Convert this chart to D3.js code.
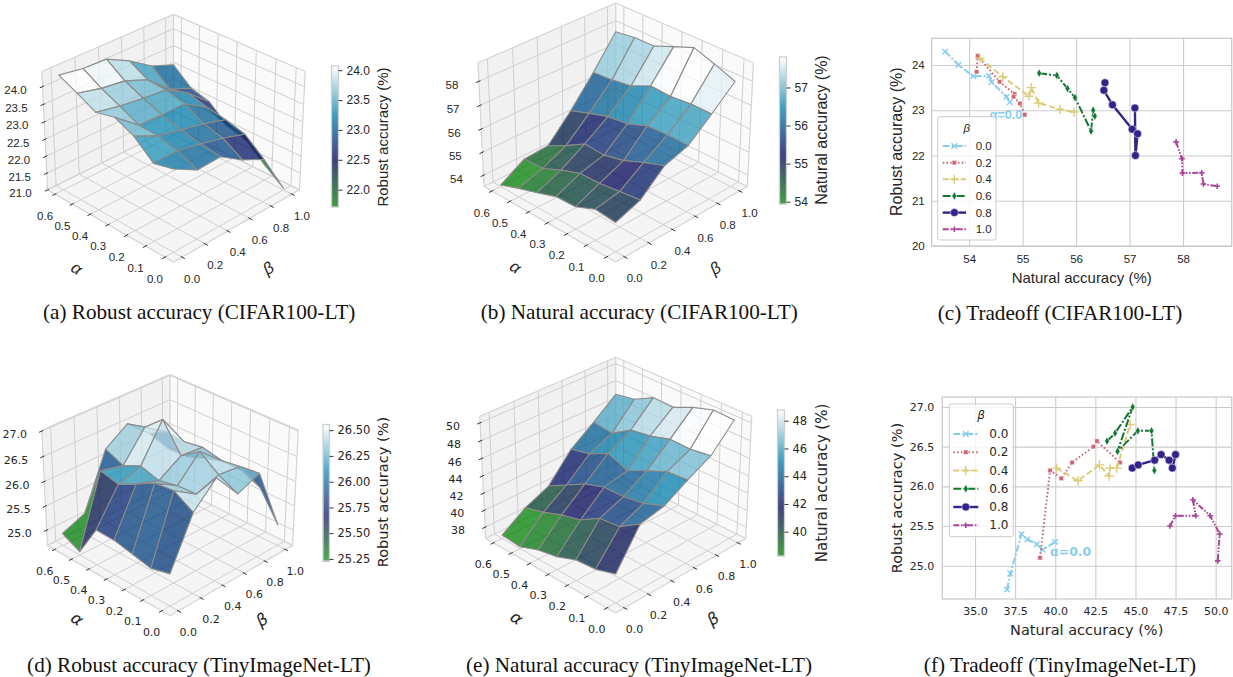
<!DOCTYPE html>
<html>
<head>
<meta charset="utf-8">
<script src="https://cdn.jsdelivr.net/npm/d3@7"></script>
<style>
body { margin: 0; background: #fff; }
</style>
</head>
<body>
<svg id="fig" width="1233" height="677"></svg>
<script>
const alphas = [0, 0.1, 0.2, 0.3, 0.4, 0.5, 0.6];
const betas = [0, 0.2, 0.4, 0.6, 0.8, 1.0];
const betaNames = ["0.0", "0.2", "0.4", "0.6", "0.8", "1.0"];

// surfaces, rows are alpha, columns are beta
const robustCifar = [
  [23.34, 22.97, 23.00, 22.57, 22.25, 21.05],
  [23.21, 23.22, 23.08, 22.91, 22.70, 21.46],
  [23.68, 23.36, 23.20, 23.05, 22.85, 21.93],
  [23.93, 23.39, 23.36, 23.36, 22.95, 22.08],
  [23.80, 23.66, 23.57, 23.50, 23.10, 22.54],
  [24.07, 23.90, 23.81, 23.54, 22.96, 22.69],
  [24.32, 24.21, 24.18, 23.84, 23.40, 23.14]
];
const naturalCifar = [
  [54.74, 55.11, 56.00, 56.32, 57.13, 57.99],
  [54.82, 55.01, 55.70, 56.34, 57.14, 58.33],
  [54.46, 54.90, 55.34, 56.30, 57.05, 58.63],
  [54.43, 54.88, 55.14, 55.97, 57.10, 58.30],
  [54.14, 54.58, 55.19, 55.87, 56.71, 57.96],
  [53.87, 54.21, 54.69, 55.60, 56.58, 57.95],
  [53.57, 54.19, 54.26, 55.31, 56.51, 57.84]
];
const robustTiny = [
  [25.33, 26.29, 26.73, 26.20, 26.38, 25.11],
  [25.23, 26.52, 26.23, 26.39, 26.34, 25.70],
  [25.31, 26.48, 26.21, 26.67, 26.28, 25.87],
  [25.39, 26.28, 26.13, 26.41, 26.37, 25.87],
  [25.40, 26.09, 26.24, 26.96, 26.31, 25.76],
  [24.75, 26.18, 26.07, 26.64, 26.35, 25.62],
  [24.93, 25.12, 26.23, 26.54, 26.14, 25.59]
];
const naturalTiny = [
  [39.96, 44.09, 44.68, 46.22, 47.61, 50.31],
  [39.22, 42.60, 43.82, 46.04, 47.25, 50.41],
  [39.03, 42.35, 43.43, 45.05, 47.32, 49.70],
  [38.17, 40.98, 43.37, 43.95, 46.65, 48.70],
  [37.72, 40.39, 42.63, 44.87, 46.30, 48.82],
  [36.88, 39.53, 41.39, 43.72, 44.87, 47.64],
  [37.06, 38.92, 40.14, 43.20, 45.14, 47.24]
];

// tradeoff lines, one row per beta
const tradeCifarX = [
  [53.55, 53.8, 54.08, 54.37, 54.42, 54.7, 54.76],
  [54.14, 54.16, 54.57, 54.85, 54.83, 54.95, 55.04],
  [54.2, 54.63, 55.12, 55.16, 55.3, 55.7, 55.96],
  [55.31, 55.64, 55.84, 55.98, 56.28, 56.32, 56.35],
  [56.54, 56.52, 56.68, 57.05, 57.15, 57.11, 57.1],
  [57.87, 57.98, 57.99, 58.35, 58.38, 58.64]
];
const tradeCifarY = [
  [24.3, 24.0, 23.75, 23.76, 23.62, 23.3, 23.18],
  [23.85, 24.2, 23.63, 23.36, 23.3, 23.15, 22.9],
  [24.15, 23.74, 23.31, 23.5, 23.16, 23.02, 22.96],
  [23.82, 23.77, 23.48, 23.28, 22.54, 23.0, 22.87],
  [23.61, 23.44, 23.12, 22.58, 22.48, 22.0, 23.05],
  [22.3, 21.93, 21.61, 21.62, 21.37, 21.32]
];
const tradeTinyX = [
  [37.0, 37.2, 37.9, 38.26, 38.85, 39.22, 40.0],
  [39.05, 39.68, 40.38, 41.05, 42.38, 42.6, 44.04],
  [40.08, 41.42, 42.75, 43.36, 43.42, 43.84, 44.67],
  [43.23, 43.73, 44.83, 43.88, 45.15, 46.0, 46.18],
  [44.8, 45.17, 46.2, 46.6, 47.1, 47.3, 47.5],
  [47.15, 47.5, 48.76, 48.58, 49.66, 50.25, 50.13]
];
const tradeTinyY = [
  [24.7, 24.9, 25.4, 25.33, 25.27, 25.2, 25.3],
  [25.1, 26.2, 26.1, 26.3, 26.5, 26.57, 26.3],
  [26.23, 26.07, 26.27, 26.13, 26.23, 26.23, 26.78],
  [26.57, 26.67, 27.0, 26.44, 26.7, 26.7, 26.2],
  [26.23, 26.27, 26.33, 26.4, 26.33, 26.23, 26.4],
  [25.5, 25.63, 25.63, 25.83, 25.63, 25.4, 25.06]
];

const lineColors = ["#88CCEE", "#CC6677", "#DDCC77", "#117733", "#332288", "#AA4499"];
const lineDashes = ["7,2,2,2", "1.6,2.2", "6,3", "8,2,2,2", null, "6,1.6,1.6,1.6,1.6,1.6"];

const svg = d3.select("#fig");
const SANS = "'Liberation Sans'";
const DEJA = "'DejaVu Sans'";
const TEXT = "#262626";

// same colours as matplotlib's ocean map
const ocean = d3.scaleLinear()
  .domain([0, 1 / 3, 2 / 3, 1])
  .range(["rgb(0,128,0)", "rgb(0,0,85)", "rgb(0,128,170)", "rgb(255,255,255)"]);

// box sides in view units (aspect 4:4:3), camera at distance 10
const SIDE = 1.19, TALL = 0.893, DIST = 10;
const COS = Math.cos(Math.PI / 6), SIN = 0.5, R2 = Math.SQRT1_2;

function surfacePanel(o) {
  const g = svg.append("g");
  const aS = d3.scaleLinear().domain([0, 0.6]).range([-0.4363, 0.4363]);
  const bS = d3.scaleLinear().domain([0, 1]).range([-0.4363, 0.4363]);
  const zS = d3.scaleLinear().domain(o.zLim).range([-0.5, 0.5]);

  // box coordinates (-.5...5) to pixels
  function proj(a, b, c) {
    const xv = (b - a) * SIDE * R2;
    const gy = (a + b) * SIDE * R2;
    const yv = gy * SIN + c * TALL * COS;
    const d = gy * COS - c * TALL * SIN;
    const f = DIST / (DIST + d);
    return [o.cx + o.S * f * xv, o.cy - o.S * f * yv, d];
  }
  const poly = pts => pts.map(p => proj(...p).slice(0, 2).join(",")).join(" ");
  const seg = (p, q, stroke, w) => {
    const P = proj(...p), Q = proj(...q);
    g.append("line").attr("x1", P[0]).attr("y1", P[1]).attr("x2", Q[0]).attr("y2", Q[1])
      .attr("stroke", stroke).attr("stroke-width", w);
  };

  // panes
  g.append("polygon").attr("points", poly([[-.5, -.5, -.5], [.5, -.5, -.5], [.5, .5, -.5], [-.5, .5, -.5]])).attr("fill", "#f5f5f5");
  g.append("polygon").attr("points", poly([[.5, -.5, -.5], [.5, .5, -.5], [.5, .5, .5], [.5, -.5, .5]])).attr("fill", "#f1f1f1");
  g.append("polygon").attr("points", poly([[-.5, .5, -.5], [.5, .5, -.5], [.5, .5, .5], [-.5, .5, .5]])).attr("fill", "#fafafa");

  const GRID = "#d0d0d0", EDGE = "#d4d4d4";
  alphas.forEach(t => {
    seg([aS(t), -.5, -.5], [aS(t), .5, -.5], GRID, 1);
    seg([aS(t), .5, -.5], [aS(t), .5, .5], GRID, 1);
  });
  betas.forEach(t => {
    seg([-.5, bS(t), -.5], [.5, bS(t), -.5], GRID, 1);
    seg([.5, bS(t), -.5], [.5, bS(t), .5], GRID, 1);
  });
  o.zTicks.forEach(t => {
    seg([.5, -.5, zS(t)], [.5, .5, zS(t)], GRID, 1);
    seg([-.5, .5, zS(t)], [.5, .5, zS(t)], GRID, 1);
  });
  [[[-.5, -.5, -.5], [.5, -.5, -.5]], [[-.5, -.5, -.5], [-.5, .5, -.5]], [[.5, -.5, -.5], [.5, -.5, .5]], [[-.5, .5, -.5], [-.5, .5, .5]],
   [[.5, -.5, .5], [.5, .5, .5]], [[-.5, .5, .5], [.5, .5, .5]], [[.5, .5, -.5], [.5, .5, .5]], [[.5, -.5, -.5], [.5, .5, -.5]], [[-.5, .5, -.5], [.5, .5, -.5]]]
    .forEach(e => seg(e[0], e[1], EDGE, 1.2));

  // ticks and their labels
  const label = (x, y, s) => g.append("text").attr("x", x).attr("y", y).attr("text-anchor", "middle")
    .attr("dominant-baseline", "central").attr("font-family", o.font).attr("font-size", o.tickSize)
    .attr("fill", TEXT).text(s);
  alphas.forEach(t => {
    seg([aS(t), -.52, -.5], [aS(t), -.49, -.5], "#333", 1);
    const p = proj(aS(t), -.5, -.5);
    label(p[0] - 10, p[1] + 21.5, d3.format(".1f")(t));
  });
  betas.forEach(t => {
    seg([-.52, bS(t), -.5], [-.49, bS(t), -.5], "#333", 1);
    const p = proj(-.5, bS(t), -.5);
    label(p[0] + 10, p[1] + 21.5, d3.format(".1f")(t));
  });
  o.zTicks.forEach(t => {
    seg([.5, -.52, zS(t)], [.5, -.49, zS(t)], "#333", 1);
    const p = proj(.5, -.5, zS(t));
    label(p[0] - 27, p[1] + 3.5, d3.format(o.zFormat)(t));
  });
  g.append("text").attr("transform", `translate(${o.aLab[0]},${o.aLab[1]}) rotate(34)`)
    .attr("text-anchor", "middle").attr("dominant-baseline", "central")
    .attr("font-family", o.font).attr("font-style", "italic").attr("font-size", 16.5).attr("fill", TEXT).text("α");
  g.append("text").attr("transform", `translate(${o.bLab[0]},${o.bLab[1]}) rotate(-34)`)
    .attr("text-anchor", "middle").attr("dominant-baseline", "central")
    .attr("font-family", o.font).attr("font-style", "italic").attr("font-size", 16.5).attr("fill", TEXT).text("β");

  // surface faces, far ones first
  const colorOf = d3.scaleLinear().domain(o.cbar).range([0, 1]).clamp(true);
  const faces = [];
  for (let i = 0; i < alphas.length - 1; i++) {
    for (let j = 0; j < betas.length - 1; j++) {
      const corners = [[i, j], [i + 1, j], [i + 1, j + 1], [i, j + 1]];
      const pts = corners.map(([r, s]) => [aS(alphas[r]), bS(betas[s]), zS(o.values[r][s])]);
      faces.push({
        pts,
        depth: d3.mean(pts, p => proj(...p)[2]),
        value: d3.mean(corners, ([r, s]) => o.values[r][s])
      });
    }
  }
  faces.sort((p, q) => q.depth - p.depth);
  g.selectAll(".face").data(faces).enter().append("polygon")
    .attr("class", "face")
    .attr("points", d => poly(d.pts))
    .attr("fill", d => ocean(colorOf(d.value)))
    .attr("fill-opacity", 0.74)
    .attr("stroke", "#8c8c8c")
    .attr("stroke-width", 1.1)
    .attr("stroke-linejoin", "round");

  // colorbar
  const [x0, y0, w, h] = o.cbBox;
  const cb = svg.append("g").attr("transform", `translate(${x0},${y0})`);
  const cY = d3.scaleLinear().domain(o.cbar).range([h, 0]);
  d3.range(0, h, 1).forEach(py => {
    cb.append("rect").attr("x", 0).attr("y", py).attr("width", w).attr("height", 1.2)
      .attr("fill", ocean(1 - py / h)).attr("fill-opacity", 0.7);
  });
  cb.append("rect").attr("width", w).attr("height", h).attr("fill", "none").attr("stroke", "#cfcfcf").attr("stroke-width", 1.3);
  const cbAxis = cb.append("g").attr("transform", `translate(${w},0)`)
    .call(d3.axisRight(cY).tickValues(o.cbTicks).tickFormat(d3.format(o.cbFormat)).tickSize(4).tickPadding(4));
  cbAxis.select(".domain").remove();
  cbAxis.selectAll("line").attr("stroke", "#333");
  cbAxis.selectAll("text").attr("font-family", o.font).attr("font-size", o.cbSize).attr("fill", TEXT);
  svg.append("text").attr("transform", `translate(${o.cbLab[0]},${o.cbLab[1]}) rotate(-90)`)
    .attr("text-anchor", "middle").attr("dominant-baseline", "central")
    .attr("font-family", o.font).attr("font-size", o.labSize).attr("fill", TEXT).text(o.title);
}

function tradeoffPanel(o) {
  const [left, top, right, bottom] = o.box;
  const x = d3.scaleLinear().domain(o.xLim).range([left, right]);
  const y = d3.scaleLinear().domain(o.yLim).range([bottom, top]);
  const g = svg.append("g");
  const gx = g.append("g").attr("transform", `translate(0,${bottom})`)
    .call(d3.axisBottom(x).tickValues(o.xTicks).tickFormat(d3.format(o.xFormat)).tickSize(top - bottom).tickPadding(o.xPad));
  const gy = g.append("g").attr("transform", `translate(${left},0)`)
    .call(d3.axisLeft(y).tickValues(o.yTicks).tickFormat(d3.format(o.yFormat)).tickSize(left - right).tickPadding(o.yPad));
  [gx, gy].forEach(a => {
    a.select(".domain").remove();
    a.selectAll("line").attr("stroke", "#cccccc").attr("stroke-width", 1.1);
    a.selectAll("text").attr("font-family", o.font).attr("font-size", o.tickSize).attr("fill", TEXT);
  });
  g.append("rect").attr("x", left).attr("y", top).attr("width", right - left).attr("height", bottom - top)
    .attr("fill", "none").attr("stroke", "#cccccc").attr("stroke-width", 1.3);

  const line = d3.line().x(d => x(d[0])).y(d => y(d[1]));
  o.xs.forEach((xs, k) => {
    const pts = xs.map((v, i) => [v, o.ys[k][i]]);
    g.append("path").attr("d", line(pts)).attr("fill", "none").attr("stroke", lineColors[k])
      .attr("stroke-width", k === 4 ? 2.4 : 2).attr("stroke-dasharray", lineDashes[k]);
    pts.forEach(p => marker(g, k, x(p[0]), y(p[1])));
  });

  g.append("text").attr("x", o.note[0]).attr("y", o.note[1]).attr("text-anchor", "middle").attr("dominant-baseline", "central")
    .attr("font-family", o.font).attr("font-size", 12.5).attr("font-weight", "bold").attr("fill", lineColors[0]).text("α=0.0");

  // legend
  const lg = svg.append("g");
  const b = o.legend;
  lg.append("rect").attr("x", b.x).attr("y", b.y).attr("width", b.w).attr("height", b.h).attr("rx", 2)
    .attr("fill", "#fff").attr("fill-opacity", 0.8).attr("stroke", "#cccccc").attr("stroke-width", 1);
  lg.append("text").attr("x", b.titleX).attr("y", b.titleY).attr("text-anchor", "middle").attr("dominant-baseline", "central")
    .attr("font-family", o.font).attr("font-style", "italic").attr("font-size", o.legSize).attr("fill", TEXT).text("β");
  betaNames.forEach((n, k) => {
    const yy = b.rowY + k * b.rowH;
    lg.append("line").attr("x1", b.hx).attr("x2", b.hx + b.hw).attr("y1", yy).attr("y2", yy)
      .attr("stroke", lineColors[k]).attr("stroke-width", k === 4 ? 2.4 : 2).attr("stroke-dasharray", lineDashes[k]);
    marker(lg, k, b.hx + b.hw / 2, yy);
    lg.append("text").attr("x", b.tx).attr("y", yy).attr("dominant-baseline", "central")
      .attr("font-family", o.font).attr("font-size", o.legSize).attr("fill", TEXT).text(n);
  });

  svg.append("text").attr("x", o.xLab[0]).attr("y", o.xLab[1]).attr("text-anchor", "middle").attr("dominant-baseline", "central")
    .attr("font-family", o.font).attr("font-size", o.xLabSize).attr("fill", TEXT).text("Natural accuracy (%)");
  svg.append("text").attr("transform", `translate(${o.yLab[0]},${o.yLab[1]}) rotate(-90)`)
    .attr("text-anchor", "middle").attr("dominant-baseline", "central")
    .attr("font-family", o.font).attr("font-size", o.yLabSize).attr("fill", TEXT).text("Robust accuracy (%)");
}

function marker(g, k, x, y) {
  const kinds = [
    [d3.symbolTimes, 22, false], [d3.symbolSquare, 20, true], [d3.symbolPlus, 30, false],
    [d3.symbolDiamond, 20, true], [d3.symbolCircle, 50, true], [d3.symbolPlus, 12, false]
  ];
  const [type, size, filled] = kinds[k];
  const p = g.append("path").attr("d", d3.symbol().type(type).size(size)()).attr("transform", `translate(${x},${y})`);
  if (filled) p.attr("fill", lineColors[k]).attr("stroke", "#fff").attr("stroke-width", 0.5);
  else p.attr("fill", "none").attr("stroke", lineColors[k]).attr("stroke-width", k === 5 ? 1.6 : 1.4);
}

surfacePanel({
  values: robustCifar, S: 153, cx: 173.5, cy: 132, zLim: [21.0, 24.42], zTicks: [21, 21.5, 22, 22.5, 23, 23.5, 24], zFormat: ".1f",
  font: SANS, tickSize: 11.5, cbar: [21.71, 24.07], cbBox: [331.5, 66, 7, 141], cbTicks: [22, 22.5, 23, 23.5, 24], cbFormat: ".1f", cbSize: 12,
  cbLab: [382, 137], labSize: 15, title: "Robust accuracy (%)", aLab: [77, 268], bLab: [268, 268]
});
surfacePanel({
  values: naturalCifar, S: 160, cx: 615.7, cy: 126, zLim: [53.5, 58.76], zTicks: [54, 55, 56, 57, 58], zFormat: ".0f",
  font: SANS, tickSize: 11.5, cbar: [53.94, 57.8], cbBox: [779.5, 57, 7, 147], cbTicks: [54, 55, 56, 57], cbFormat: ".0f", cbSize: 12,
  cbLab: [821.7, 130], labSize: 16, title: "Natural accuracy (%)", aLab: [515.7, 266.7], bLab: [715, 268]
});
surfacePanel({
  values: robustTiny, S: 149, cx: 170, cy: 489, zLim: [24.68, 27.02], zTicks: [25, 25.5, 26, 26.5, 27], zFormat: ".1f",
  font: DEJA, tickSize: 11, cbar: [25.23, 26.555], cbBox: [323, 424.5, 6.5, 136.5], cbTicks: [25.25, 25.5, 25.75, 26, 26.25, 26.5], cbFormat: ".2f", cbSize: 11.5,
  cbLab: [382, 492], labSize: 14.6, title: "Robust accuracy (%)", aLab: [77, 619], bLab: [262, 620]
});
surfacePanel({
  values: naturalTiny, S: 158, cx: 615.7, cy: 478.7, zLim: [36.65, 50.73], zTicks: [38, 40, 42, 44, 46, 48, 50], zFormat: ".0f",
  font: DEJA, tickSize: 11, cbar: [38.25, 48.77], cbBox: [777.5, 410, 7, 146], cbTicks: [40, 42, 44, 46, 48], cbFormat: ".0f", cbSize: 11.5,
  cbLab: [821.7, 483], labSize: 15, title: "Natural accuracy (%)", aLab: [516.7, 618], bLab: [713, 619]
});

tradeoffPanel({
  xs: tradeCifarX, ys: tradeCifarY, box: [931.7, 38.3, 1231.7, 246], xLim: [53.3, 58.91], yLim: [20, 24.59],
  xTicks: [54, 55, 56, 57, 58], yTicks: [20, 21, 22, 23, 24], xFormat: ".0f", yFormat: ".0f", xPad: 9, yPad: 7,
  font: SANS, tickSize: 11.5, legSize: 11.5, xLabSize: 15, yLabSize: 16, xLab: [1081.7, 277.7], yLab: [896.7, 141.7], note: [1006, 114.5],
  legend: { x: 937.7, y: 116.7, w: 58.3, h: 123.3, titleX: 966.7, titleY: 127.7, rowY: 146, rowH: 16.65, hx: 942.7, hw: 23.3, tx: 975.7 }
});
tradeoffPanel({
  xs: tradeTinyX, ys: tradeTinyY, box: [942.3, 397, 1231.7, 599], xLim: [32.96, 51.0], yLim: [24.58, 27.126],
  xTicks: [35, 37.5, 40, 42.5, 45, 47.5, 50], yTicks: [25, 25.5, 26, 26.5, 27], xFormat: ".1f", yFormat: ".1f", xPad: 8, yPad: 8,
  font: DEJA, tickSize: 11, legSize: 12, xLabSize: 14.5, yLabSize: 14.6, xLab: [1086.7, 630], yLab: [896.7, 498], note: [1070.7, 551],
  legend: { x: 949.3, y: 404, w: 64, h: 132.7, titleX: 981, titleY: 415, rowY: 434, rowH: 18.25, hx: 953.3, hw: 25, tx: 989.3 }
});

// sub-figure captions
const captions = ["(a) Robust accuracy (CIFAR100-LT)", "(b) Natural accuracy (CIFAR100-LT)", "(c) Tradeoff (CIFAR100-LT)",
  "(d) Robust accuracy (TinyImageNet-LT)", "(e) Natural accuracy (TinyImageNet-LT)", "(f) Tradeoff (TinyImageNet-LT)"];
const captionX = [199.2, 639.3, 1060, 199, 639, 1060];
const captionY = [312, 312, 313, 665, 665, 665];
svg.selectAll(".cap").data(captions).enter().append("text")
  .attr("class", "cap")
  .attr("x", (d, i) => captionX[i]).attr("y", (d, i) => captionY[i])
  .attr("text-anchor", "middle").attr("dominant-baseline", "central")
  .attr("font-family", "'Liberation Serif'").attr("font-size", 21.2).attr("fill", "#111")
  .text(d => d);
</script>
</body>
</html>
